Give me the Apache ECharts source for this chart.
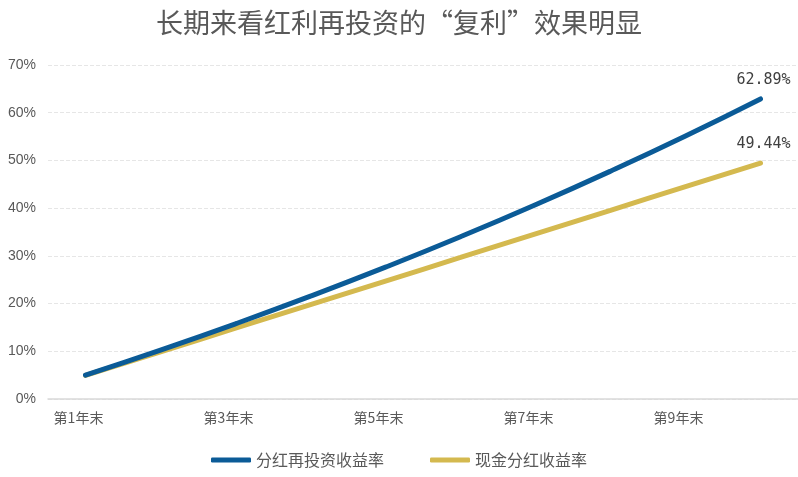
<!DOCTYPE html>
<html><head><meta charset="utf-8">
<script src="https://cdn.jsdelivr.net/npm/echarts@6/dist/echarts.min.js"></script>
<style>html,body{margin:0;padding:0;background:#fff}#c{width:798px;height:477px}</style>
</head><body><div id="c"></div>
<script>
const titleText = '长期来看红利再投资的“复利”效果明显';
const categories = ['第1年末','第2年末','第3年末','第4年末','第5年末','第6年末','第7年末','第8年末','第9年末','第10年末'];
const reinvestName = '分红再投资收益率';
const cashName = '现金分红收益率';
const reinvestValues = [5.00, 10.25, 15.76, 21.55, 27.63, 34.01, 40.71, 47.75, 55.13, 62.89];
const cashValues = [4.94, 9.89, 14.83, 19.78, 24.72, 29.66, 34.61, 39.55, 44.50, 49.44];
const yTicks = [0, 10, 20, 30, 40, 50, 60, 70];

const chart = echarts.init(document.getElementById('c'));
const cjk = '"Noto Sans CJK SC", "Liberation Sans", sans-serif';
function endLabel() {
  return {
    show: true, position: 'top', distance: 11,
    fontFamily: '"DejaVu Sans Mono", monospace', fontSize: 15, color: '#404040',
    offset: [3, 0],
    formatter: p => p.dataIndex === categories.length - 1 ? p.value.toFixed(2) + '%' : ''
  };
}
chart.setOption({
  animation: false,
  title: { text: titleText, left: 'center', top: 4,
    textStyle: { fontFamily: cjk, fontSize: 27, fontWeight: 'normal', color: '#595959' } },
  legend: { bottom: 4, left: 'center', itemGap: 46, itemWidth: 40, itemHeight: 5, icon: 'roundRect',
    textStyle: { fontFamily: cjk, fontSize: 16, color: '#595959' },
    data: [reinvestName, cashName] },
  grid: { left: 48, right: -4, top: 65, bottom: 78, containLabel: false },
  xAxis: { type: 'category', data: categories, boundaryGap: true,
    axisLine: { lineStyle: { color: '#d9d9d9', width: 1.5 } },
    axisTick: { show: false },
    axisLabel: { interval: 1, fontFamily: cjk, fontSize: 14, color: '#595959', margin: 12, padding: [0, 14, 0, 0] } },
  yAxis: { type: 'value', min: yTicks[0], max: yTicks[yTicks.length - 1], interval: 10,
    axisLine: { show: false }, axisTick: { show: false },
    axisLabel: { formatter: v => v + '%', fontFamily: '"Liberation Sans", Arial, sans-serif', fontSize: 14, color: '#595959', margin: 12 },
    splitLine: { lineStyle: { color: '#e6e6e6', type: 'dashed' } } },
  series: [
    { name: reinvestName, type: 'line', data: reinvestValues, smooth: true, showSymbol: true, symbol: 'circle', symbolSize: 0.1,
      color: '#0b5b97', lineStyle: { width: 5, cap: 'round', color: '#0b5b97' }, label: endLabel(), z: 3 },
    { name: cashName, type: 'line', data: cashValues, smooth: true, showSymbol: true, symbol: 'circle', symbolSize: 0.1,
      color: '#d4b94f', lineStyle: { width: 5, cap: 'round', color: '#d4b94f' }, label: endLabel(), z: 2 }
  ]
});
</script></body></html>
